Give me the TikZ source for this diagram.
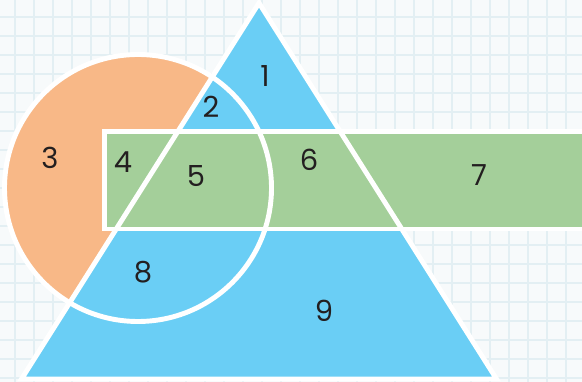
\documentclass[tikz,border=0pt]{standalone}
\usepackage{fontspec}
\setmainfont{Poppins}
\usepackage{tikz}

\definecolor{paper}{HTML}{F7FAFB}
\definecolor{gridblue}{HTML}{E3EFF3}
\definecolor{triblue}{HTML}{6ACEF5}
\definecolor{circorange}{HTML}{F8B887}
\definecolor{rectgreen}{HTML}{A4CF9A}
\definecolor{numtext}{HTML}{231F20}

\begin{document}
\begin{tikzpicture}[
    x=0.02cm, y=0.02cm,
    font=\fontsize{16.5}{18}\selectfont,
    gridline/.style={draw=gridblue,line width=1.6pt},
    outline/.style={draw=white,line width=2.8pt,line join=miter},
    region/.style={text=numtext,inner sep=0pt}
]
\useasboundingbox (0,0) rectangle (582,382);
\clip (0,0) rectangle (582,382);

% paper background
\fill[paper] (0,0) rectangle (582,382);
\foreach \gx in {15,34,...,582}
    \draw[gridline] (\gx,0) -- (\gx,382);
\foreach \gy in {4,23,...,382}
    \draw[gridline] (0,\gy) -- (582,\gy);

% fills
\fill[circorange] (138,194) circle[radius=133.5];
\fill[triblue] (21.5,3) -- (259,379) -- (496.5,3) -- cycle;
\fill[rectgreen] (104.5,153) rectangle (620,250.3);

% white borders
\draw[outline] (138,194) circle[radius=133.5];
\draw[outline] (21.5,3) -- (259,379) -- (496.5,3) -- cycle;
\draw[outline] (104.5,153) rectangle (620,250.3);

% numbers
\node[region] (r1) at (265,306) {1};
\node[region] (r2) at (211,275) {2};
\node[region] (r3) at (50,224) {3};
\node[region] (r4) at (123,220) {4};
\node[region] (r5) at (196,206) {5};
\node[region] (r6) at (309,222) {6};
\node[region] (r7) at (479,207) {7};
\node[region] (r8) at (143,110) {8};
\node[region] (r9) at (324,71) {9};
\end{tikzpicture}
\end{document}
